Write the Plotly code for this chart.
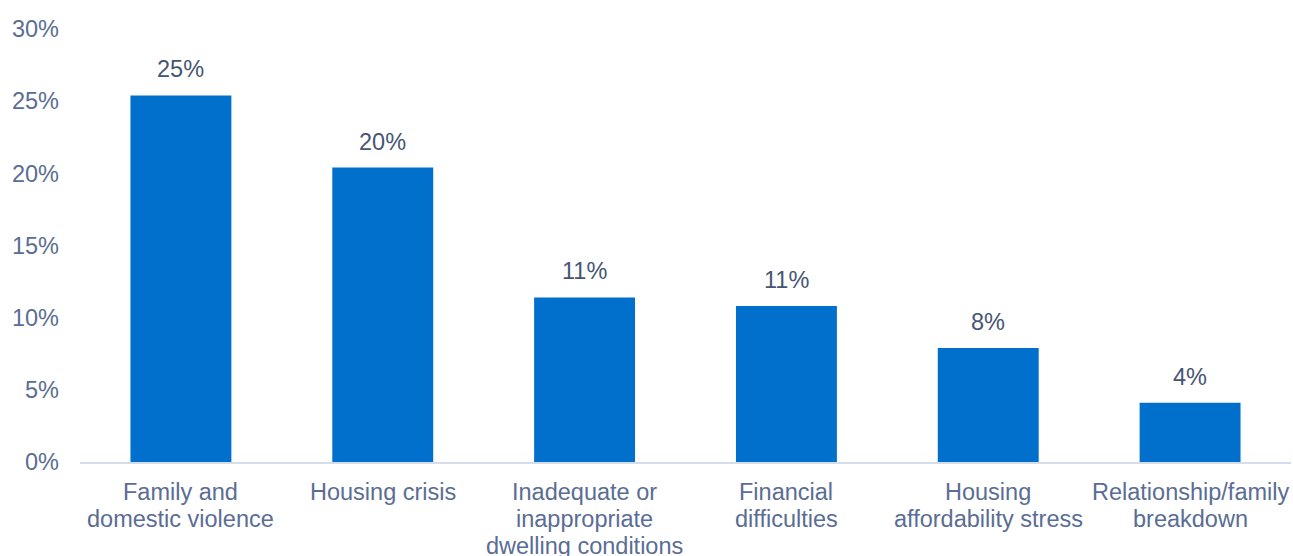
import plotly.graph_objects as go

# Share of clients by main reason for seeking assistance
categories = [
    "Family and<br>domestic violence",
    "Housing crisis",
    "Inadequate or<br>inappropriate<br>dwelling conditions",
    "Financial<br>difficulties",
    "Housing<br>affordability stress",
    "Relationship/family<br>breakdown",
]
shares = [0.254, 0.204, 0.114, 0.108, 0.079, 0.041]
y_ticks = [0, 0.05, 0.10, 0.15, 0.20, 0.25, 0.30]
y_tick_labels = ["0%", "5%", "10%", "15%", "20%", "25%", "30%"]

BAR_COLOR = "#0070CC"
AXIS_TEXT = "#5A6D94"
LABEL_TEXT = "#465573"
FONT = "Liberation Sans, Arial, sans-serif"
FONT_SIZE = 23.5

fig = go.Figure(
    go.Bar(
        x=categories,
        y=shares,
        marker=dict(color=BAR_COLOR, line=dict(width=0)),
        showlegend=False,
        hoverinfo="skip",
    )
)

# value labels above each bar
for cat, val in zip(categories, shares):
    fig.add_annotation(
        x=cat, y=val, xref="x", yref="y",
        text=f"{val:.0%}",
        showarrow=False, yanchor="bottom", yshift=11,
        font=dict(family=FONT, size=FONT_SIZE, color=LABEL_TEXT),
    )

# category labels under the axis, one annotation per line for tighter leading
for cat in categories:
    for i, line in enumerate(cat.split("<br>")):
        fig.add_annotation(
            x=cat, y=0, xref="x", yref="y",
            text=line,
            showarrow=False, yanchor="middle", yshift=-(30 + 27 * i),
            font=dict(family=FONT, size=FONT_SIZE, color=AXIS_TEXT),
        )

fig.update_layout(
    width=1293,
    height=556,
    margin=dict(l=80, r=2, t=29, b=94),
    paper_bgcolor="white",
    plot_bgcolor="white",
    bargap=0.5,
    font=dict(family=FONT, size=FONT_SIZE, color=AXIS_TEXT),
)
fig.update_xaxes(
    showline=True, linecolor="#D5DCEA", linewidth=2,
    showgrid=False, ticks="", showticklabels=False,
)
fig.update_yaxes(
    range=[0, 0.30], tickvals=y_ticks, ticktext=y_tick_labels,
    showgrid=False, zeroline=False, showline=False,
    ticks="", ticklabelstandoff=20,
    tickfont=dict(size=FONT_SIZE, color=AXIS_TEXT),
)

fig.write_html("out.html")
